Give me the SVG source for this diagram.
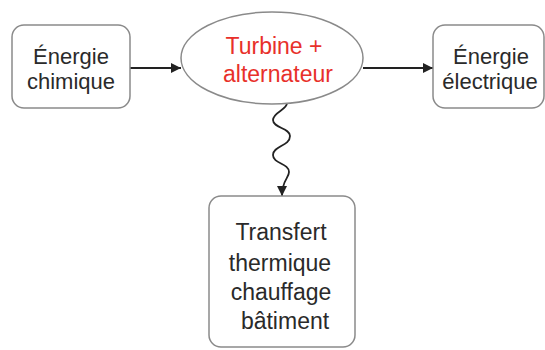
<svg xmlns="http://www.w3.org/2000/svg" width="545" height="350" viewBox="0 0 545 350">
  <defs>
    <style>
      .box { fill: #ffffff; stroke: #8a8a8a; stroke-width: 1.5; }
      .lbl { font-family: "Liberation Sans", Arial, sans-serif; font-size: 23px; fill: #2a2a2a; text-anchor: middle; }
      .sm { font-size: 22px; }
      .red { fill: #e8302a; }
      .conn { fill: none; stroke: #222222; stroke-width: 1.8; }
    </style>
    <marker id="ah" viewBox="0 0 10 10" refX="10" refY="5" markerWidth="10" markerHeight="10" markerUnits="userSpaceOnUse" orient="auto">
      <path d="M0,0 L10,5 L0,10 Z" fill="#222222"/>
    </marker>
  </defs>
  <rect width="545" height="350" fill="#ffffff"/>

  <g id="connectors">
    <line class="conn" x1="130" y1="68" x2="181" y2="68" marker-end="url(#ah)"/>
    <line class="conn" x1="363" y1="68" x2="433" y2="68" marker-end="url(#ah)"/>
    <path class="conn" d="M287,103 C287,110 273,112 273,120 C273,128 290,128 290,136 C290,146 273,146 273,155 C273,164 289,163 289,172 C289,178 282,180 282,196" marker-end="url(#ah)"/>
  </g>

  <g id="energie-chimique">
    <rect class="box" x="12" y="25" width="118" height="83" rx="12" ry="12"/>
    <text class="lbl sm" x="71" y="64">Énergie</text>
    <text class="lbl sm" x="71" y="89">chimique</text>
  </g>

  <g id="turbine">
    <ellipse class="box" cx="272" cy="58" rx="91" ry="46"/>
    <text class="lbl red" x="274" y="54">Turbine +</text>
    <text class="lbl red" x="278" y="82">alternateur</text>
  </g>

  <g id="energie-electrique">
    <rect class="box" x="433" y="25" width="111" height="83" rx="12" ry="12"/>
    <text class="lbl sm" x="491" y="64">Énergie</text>
    <text class="lbl sm" x="490" y="89">électrique</text>
  </g>

  <g id="transfert">
    <rect class="box" x="209" y="196" width="146" height="151" rx="12" ry="12"/>
    <text class="lbl" x="281" y="240">Transfert</text>
    <text class="lbl" x="280" y="271">thermique</text>
    <text class="lbl" x="281" y="300">chauffage</text>
    <text class="lbl" x="285" y="329">bâtiment</text>
  </g>
</svg>
